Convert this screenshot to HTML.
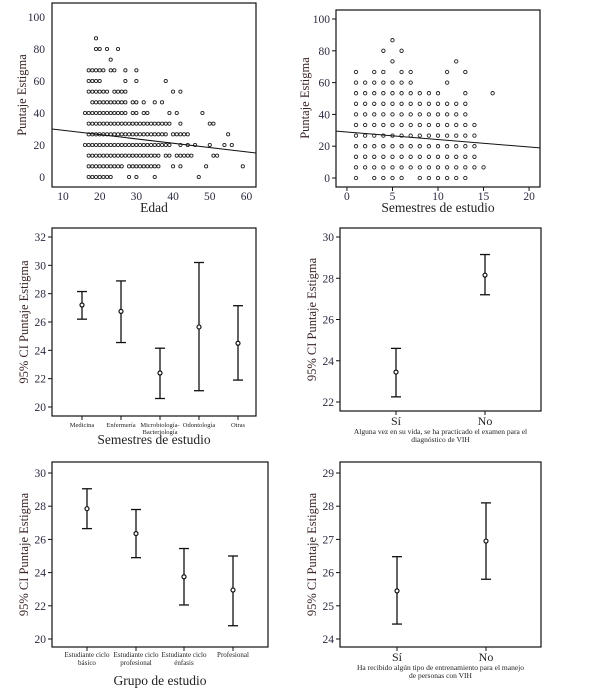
<!DOCTYPE html>
<html><head><meta charset="utf-8">
<style>
html,body{margin:0;padding:0;background:#fff;}
svg{display:block;font-family:"Liberation Serif",serif;}
</style></head>
<body>
<svg id="fig" width="604" height="694" viewBox="0 0 604 694" xmlns="http://www.w3.org/2000/svg"></svg>
<script>
// ---- Panel 1 data: Edad vs Puntaje Estigma ----
const p1RowValues = [0, 6.67, 13.33, 20, 26.67, 33.33, 40, 46.67, 53.33, 60, 66.67, 73.33, 80, 86.67];
const p1Ages = [
 [17,18,19,20,21,22,23,28,30,35,47],
 [17,18,19,20,21,22,23,24,25,26,28,29,30,31,32,33,34,35,36,40,42,49,59],
 [17,18,19,20,21,22,23,24,25,26,27,28,29,30,31,32,33,34,35,36,38,39,41,42,43,44,45,51,52],
 [16,17,18,19,20,21,22,23,24,25,26,27,28,29,30,31,32,33,34,35,36,37,38,39,42,44,46,50,54,56],
 [17,18,19,20,21,22,23,24,25,26,27,28,29,30,31,32,33,34,35,36,37,38,40,41,42,43,44,55],
 [17,18,19,20,21,22,23,24,25,26,27,28,29,30,31,32,33,34,35,36,37,38,39,42,50,51],
 [16,17,18,19,20,21,22,23,24,25,26,27,29,30,32,33,39,41,48],
 [18,19,20,21,22,23,24,25,26,27,29,30,32,35,37],
 [17,18,19,20,21,22,24,25,26,27,40,42],
 [17,18,19,20,27,30,38],
 [17,18,19,20,21,23,24,27,30],
 [23],
 [19,20,22,25],
 [19]
];
const p1Reg = [31.9, -0.27]; // intercept, slope
const p1XTicks = [10,20,30,40,50,60];
const p1YTicks = [0,20,40,60,80,100];

// ---- Panel 2 data: Semestres vs Puntaje Estigma ----
const p2RowValues = [0, 6.67, 13.33, 20, 26.67, 33.33, 40, 46.67, 53.33, 60, 66.67, 73.33, 80, 86.67];
const p2Sem = [
 [1,3,4,5,6,8,9,10,11,12,13],
 [1,2,3,4,5,6,7,8,9,10,11,12,13,14,15],
 [1,2,3,4,5,6,7,8,9,10,11,12,13,14],
 [1,2,3,4,5,6,7,8,9,10,11,12,13,14],
 [1,2,3,4,5,6,7,8,9,10,11,12,13,14],
 [1,2,3,4,5,6,7,8,9,10,11,12,13,14],
 [1,2,3,4,5,6,7,8,9,10,11,12,13],
 [1,2,3,4,5,6,7,8,9,10,11,12,13],
 [1,2,3,4,5,6,7,8,9,10,13,16],
 [1,2,3,4,5,6,7,11],
 [1,3,4,6,7,11,13],
 [5,12],
 [4,6],
 [5]
];
const p2Reg = [28.9, -0.47];
const p2XTicks = [0,5,10,15,20];
const p2YTicks = [0,20,40,60,80,100];

// ---- Panel 3 ----
const p3Cats = [["Medicina"],["Enfermería"],["Microbiología-","Bacteriología"],["Odontología"],["Otras"]];
const p3Mean = [27.2, 26.75, 22.4, 25.65, 24.5];
const p3Lo = [26.2, 24.55, 20.6, 21.15, 21.9];
const p3Hi = [28.15, 28.9, 24.15, 30.2, 27.15];
const p3YTicks = [20,22,24,26,28,30,32];

// ---- Panel 4 ----
const p4Cats = [["Sí"],["No"]];
const p4Mean = [23.45, 28.15];
const p4Lo = [22.25, 27.2];
const p4Hi = [24.6, 29.15];
const p4YTicks = [22,24,26,28,30];

// ---- Panel 5 ----
const p5Cats = [["Estudiante ciclo","básico"],["Estudiante ciclo","profesional"],["Estudiante ciclo","énfasis"],["Profesional"]];
const p5Mean = [27.85, 26.35, 23.75, 22.95];
const p5Lo = [26.65, 24.9, 22.05, 20.8];
const p5Hi = [29.05, 27.8, 25.45, 25.0];
const p5YTicks = [20,22,24,26,28,30];

// ---- Panel 6 ----
const p6Cats = [["Sí"],["No"]];
const p6Mean = [25.45, 26.95];
const p6Lo = [24.45, 25.8];
const p6Hi = [26.48, 28.1];
const p6YTicks = [24,25,26,27,28,29];

const NS = "http://www.w3.org/2000/svg";
const fig = document.getElementById("fig");
function mk(tag, attrs, parent, text){
  const e = document.createElementNS(NS, tag);
  for (const k in attrs) e.setAttribute(k, attrs[k]);
  if (text !== undefined) e.textContent = text;
  (parent||fig).appendChild(e);
  return e;
}
function lin(d0,d1,r0,r1){return v => r0 + (v-d0)*(r1-r0)/(d1-d0);}

function frame(g, box){
  const r = mk("rect",{x:box.x0,y:box.y0,width:box.x1-box.x0,height:box.y1-box.y0,fill:"none",stroke:"#111","stroke-width":1.2},g);
  
  
}
function yAxis(g, ticks, y, box, ticksOn, fs){
  ticks.forEach(t=>{
    const yy = y(t);
    if (ticksOn){
      const l = mk("line",{x1:box.x0-4,x2:box.x0,y1:yy,y2:yy,stroke:"#111","stroke-width":1},g);
      
      
    }
    const tx = mk("text",{x:box.x0-(ticksOn?6:7),y:yy+4,"text-anchor":"end","font-size":fs||11.5,fill:"#2a2a40"},g,String(t));
    
    
  });
}
function yTitle(g, text, x, yc, fs){
  const t = mk("text",{x:x,y:yc,"text-anchor":"middle","font-size":fs||12.5,fill:"#3a2424",transform:`rotate(-90 ${x} ${yc})`},g,text);
  
  
}
function xTitleLines(g, lines, x, y0, lh, fs){
  lines.forEach((s,i)=>{
    const t = mk("text",{x:x,y:y0+i*lh,"text-anchor":"middle","font-size":fs,fill:"#222"},g,s);
    
    
  });
}

function scatter(name, box, xd, yd, rows, rowVals, reg, xTicks, yTicks, ticksOn, r, xt, yt){
  const g = mk("g",{});
  
  
  const x = lin(xd[0],xd[1],box.x0,box.x1), y = lin(yd[0],yd[1],box.y1Data,box.y0Data);
  frame(g, box);
  yAxis(g, yTicks, y, box, ticksOn, 11.5);
  xTicks.forEach(t=>{
    if (ticksOn){
      const l = mk("line",{x1:x(t),x2:x(t),y1:box.y1,y2:box.y1+4,stroke:"#111","stroke-width":1},g);
      
      
    }
    const tx = mk("text",{x:x(t),y:box.y1+13,"text-anchor":"middle","font-size":11.5,fill:"#2a2a40"},g,String(t));
    
    
  });
  rows.forEach((arr,i)=>{
    arr.forEach(v=>{
      const c = mk("circle",{cx:x(v),cy:y(rowVals[i]),r:r,fill:"none",stroke:"#222","stroke-width":0.9},g);
      
      
    });
  });
  const ln = mk("line",{x1:box.x0,y1:y(reg[0]+reg[1]*xd[0]),x2:box.x1,y2:y(reg[0]+reg[1]*xd[1]),stroke:"#111","stroke-width":1},g);
  
  
  yTitle(g, "Puntaje Estigma", yt[0], yt[1], 12.5);
  xTitleLines(g, [xt[0]], (box.x0+box.x1)/2, xt[1], 0, 13.5);
}

function errPlot(name, box, yd, yr, cats, mean, lo, hi, catX, yTicks, catFs, catY, catLh, titleLines, titleY, titleLh, titleFs, ytX, ytFs){
  const g = mk("g",{});
  
  
  const y = lin(yd[0],yd[1],yr[0],yr[1]);
  frame(g, box);
  yAxis(g, yTicks, y, box, true, 11.5);
  cats.forEach((lab,i)=>{
    const cx = catX[i];
    const tk = mk("line",{x1:cx,x2:cx,y1:box.y1,y2:box.y1+4,stroke:"#111","stroke-width":1},g);
    
    
    lab.forEach((s,j)=>{
      const t = mk("text",{x:cx,y:catY+j*catLh,"text-anchor":"middle","font-size":catFs,fill:"#222"},g,s);
      
      
    });
    const eg = mk("g",{},g);
    
    
    mk("line",{x1:cx,x2:cx,y1:y(lo[i]),y2:y(hi[i]),stroke:"#111","stroke-width":1.3},eg);
    mk("line",{x1:cx-5,x2:cx+5,y1:y(lo[i]),y2:y(lo[i]),stroke:"#111","stroke-width":1.3},eg);
    mk("line",{x1:cx-5,x2:cx+5,y1:y(hi[i]),y2:y(hi[i]),stroke:"#111","stroke-width":1.3},eg);
    const c = mk("circle",{cx:cx,cy:y(mean[i]),r:2,fill:"#fff",stroke:"#111","stroke-width":1.2},g);
    
    
  });
  yTitle(g, "95% CI Puntaje Estigma", ytX, (box.y0+box.y1)/2, ytFs);
  xTitleLines(g, titleLines, (box.x0+box.x1)/2, titleY, titleLh, titleFs);
}

// Panel 1
scatter("scatter-edad", {x0:52,x1:256,y0:3,y1:187,y0Data:17,y1Data:177},
  [7,62.6],[0,100], p1Ages, p1RowValues, p1Reg, p1XTicks, p1YTicks, false, 1.6, ["Edad",212], [26,95]);
// Panel 2
scatter("scatter-semestres", {x0:336,x1:540,y0:10,y1:187,y0Data:19,y1Data:178},
  [-1.2,21.2],[0,100], p2Sem, p2RowValues, p2Reg, p2XTicks, p2YTicks, true, 1.7, ["Semestres de estudio",212], [309,98]);
// Panel 3
errPlot("errorbar-carrera", {x0:52,x1:256,y0:228,y1:416}, [20,32],[407,237],
  p3Cats, p3Mean, p3Lo, p3Hi, [82,121,160,199,238], p3YTicks, 6.5, 427, 7,
  ["Semestres de estudio"], 444, 0, 13.5, 28, 12.5);
// Panel 4
errPlot("errorbar-examen-vih", {x0:340,x1:541,y0:228,y1:411}, [22,30],[402,237],
  p4Cats, p4Mean, p4Lo, p4Hi, [396,485], p4YTicks, 12, 425, 0,
  ["Alguna vez en su vida, se ha practicado el examen para el","diagnóstico de VIH"], 434, 8, 7.5, 316, 12.5);
// Panel 5
errPlot("errorbar-grupo", {x0:52,x1:268,y0:462,y1:647}, [20,30],[639,473],
  p5Cats, p5Mean, p5Lo, p5Hi, [87,136,184,233], p5YTicks, 7, 657, 8,
  ["Grupo de estudio"], 685, 0, 13.5, 28, 12.5);
// Panel 6
errPlot("errorbar-entrenamiento", {x0:340,x1:541,y0:462,y1:647}, [24,29],[639,473],
  p6Cats, p6Mean, p6Lo, p6Hi, [397,486], p6YTicks, 12, 661, 0,
  ["Ha recibido algún tipo de entrenamiento para el manejo","de personas con VIH"], 670, 8, 7.5, 316, 12.5);
</script>
</body></html>
